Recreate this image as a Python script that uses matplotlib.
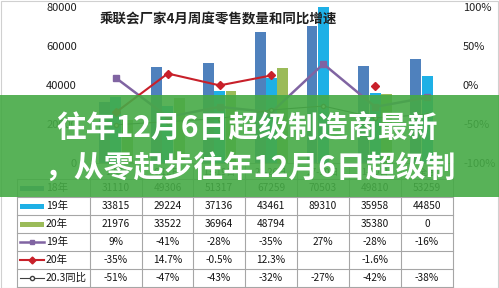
import numpy as np
import matplotlib
matplotlib.use("Agg")
import matplotlib.pyplot as plt
from matplotlib.patches import Rectangle
from matplotlib.lines import Line2D

plt.rcParams["font.family"] = ["Noto Sans CJK SC", "DejaVu Sans"]

# data
categories = ["1-5日", "6-12日", "13-19日", "20-26日", "27-30日", "1-30日", "全月"]
sales_18 = [31110, 49306, 51317, 67259, 70503, 49810, 53259]
sales_19 = [33815, 29224, 37136, 43461, 89310, 35958, 44850]
sales_20 = [21976, 33522, 36964, 48794, np.nan, 35380, 0]
yoy_19 = [9, -41, -28, -35, 27, -28, -16]
yoy_20 = [-35, 14.7, -0.5, 12.3, np.nan, -1.6, np.nan]
yoy_203 = [-51, -47, -43, -32, -27, -42, -38]

title = "乘联会厂家4月周度零售数量和同比增速"
banner = ["往年12月6日超级制造商最新", "，从零起步往年12月6日超级制"]

c18, c19, c20 = "#4f81bd", "#1eb0e6", "#9bbb59"
c_l19, c_l20, c_l203 = "#8064a2", "#c8202a", "#404040"

W, H = 499, 288
fig = plt.figure(figsize=(W / 100, H / 100), dpi=100)

# chart area (pixels: x 90-453, y 7-163)
ax = fig.add_axes([90 / W, 1 - 163 / H, 363 / W, 156 / H])
x = np.arange(len(categories))
bw = 0.21
ax.bar(x - 0.22, sales_18, bw, color=c18)
ax.bar(x, sales_19, bw, color=c19)
ax.bar(x + 0.22, sales_20, bw, color=c20)
ax.set_xlim(-0.5, len(categories) - 0.5)
ax.set_ylim(0, 80000)
ax.set_yticks([0, 20000, 40000, 60000, 80000])
ax.set_xticks([])
ax.tick_params(axis="y", length=0, pad=9.4, labelsize=8, labelcolor="#1f1f1f")
for s in ax.spines.values():
    s.set_visible(False)

ax2 = ax.twinx()
ax2.plot(x, np.array(yoy_19) / 100, color=c_l19, lw=1.8, marker="s", ms=4)
ax2.plot(x, np.array(yoy_20) / 100, color=c_l20, lw=1.5, marker="D", ms=4)
ax2.plot(x, np.array(yoy_203) / 100, color=c_l203, lw=0.8, marker="o", ms=3,
         mfc="white")
ax2.set_ylim(-1, 1)
ax2.set_yticks([-1, -0.5, 0, 0.5, 1])
ax2.set_yticklabels(["-100%", "-50%", "0%", "50%", "100%"])
ax2.tick_params(axis="y", length=0, pad=7.2, labelsize=8, labelcolor="#1f1f1f")
for s in ax2.spines.values():
    s.set_visible(False)

fig.text(100 / W, 1 - 20 / H, title, fontsize=9.7, fontweight="bold",
         color="#1f1f1f", ha="left", va="center")

# data table drawn in pixel coordinates
tb = fig.add_axes([0, 0, 1, 1])
tb.set_xlim(0, W)
tb.set_ylim(H, 0)
tb.axis("off")
tb.patch.set_alpha(0)
col_x = [17, 90, 142, 193, 245, 297, 349, 401, 453]
row_y = [163, 179, 197, 215, 233, 251, 269, 287]
lc = "#a6a6a6"
for yy in row_y:
    tb.plot([col_x[0] if yy > 163 else col_x[1], col_x[-1]], [yy, yy], color=lc, lw=0.8)
for i, xx in enumerate(col_x):
    tb.plot([xx, xx], [row_y[0] if i > 0 else row_y[1], row_y[-1]], color=lc, lw=0.8)

for j, cat in enumerate(categories):
    tb.text((col_x[j + 1] + col_x[j + 2]) / 2, (row_y[0] + row_y[1]) / 2 + 1, cat,
            fontsize=6.5, ha="center", va="center", color="#262626")

rows = [
    ("18年", "bar", c18, [f"{v:.0f}" for v in sales_18]),
    ("19年", "bar", c19, [f"{v:.0f}" for v in sales_19]),
    ("20年", "bar", c20, ["" if np.isnan(v) else f"{v:.0f}" for v in sales_20]),
    ("19年", ("s", 1.8), c_l19, [f"{v:g}%" for v in yoy_19]),
    ("20年", ("D", 1.5), c_l20, ["" if np.isnan(v) else f"{v:g}%" for v in yoy_20]),
    ("20.3同比", ("o", 0.8), c_l203, [f"{v:g}%" for v in yoy_203]),
]
for i, (name, kind, col, cells) in enumerate(rows):
    yc = (row_y[i + 1] + row_y[i + 2]) / 2
    if kind == "bar":
        tb.add_patch(Rectangle((20, yc - 2.5), 24, 5, color=col, lw=0))
    else:
        mk, lw = kind
        tb.add_line(Line2D([20, 44], [yc, yc], color=col, lw=lw))
        tb.plot([32], [yc], marker=mk, ms=3.5 if mk != "o" else 3, color=col,
                mfc="white" if mk == "o" else col)
    tb.text(46, yc, name, fontsize=7.5, ha="left", va="center", color="#141414")
    for j, s in enumerate(cells):
        tb.text((col_x[j + 1] + col_x[j + 2]) / 2, yc, s, fontsize=7.3,
                ha="center", va="center", color="#141414")

# light frame
tb.add_patch(Rectangle((0.5, 0.5), W - 1, H - 1, fill=False, ec="#d0d0d0", lw=0.8))

# green banner overlay
fig.patches.append(Rectangle((0, 1 - 197 / H), 1, 102 / H, transform=fig.transFigure,
                             color=(70 / 255, 170 / 255, 70 / 255), alpha=0.9,
                             lw=0, zorder=5))
fig.text(247 / W, 1 - 128 / H, banner[0], fontsize=21.5, fontweight="bold",
         color="white", ha="center", va="center", zorder=6)
fig.text(250 / W, 1 - 168 / H, banner[1], fontsize=21.5, fontweight="bold",
         color="white", ha="center", va="center", zorder=6)

fig.savefig("out.png", dpi=100)
